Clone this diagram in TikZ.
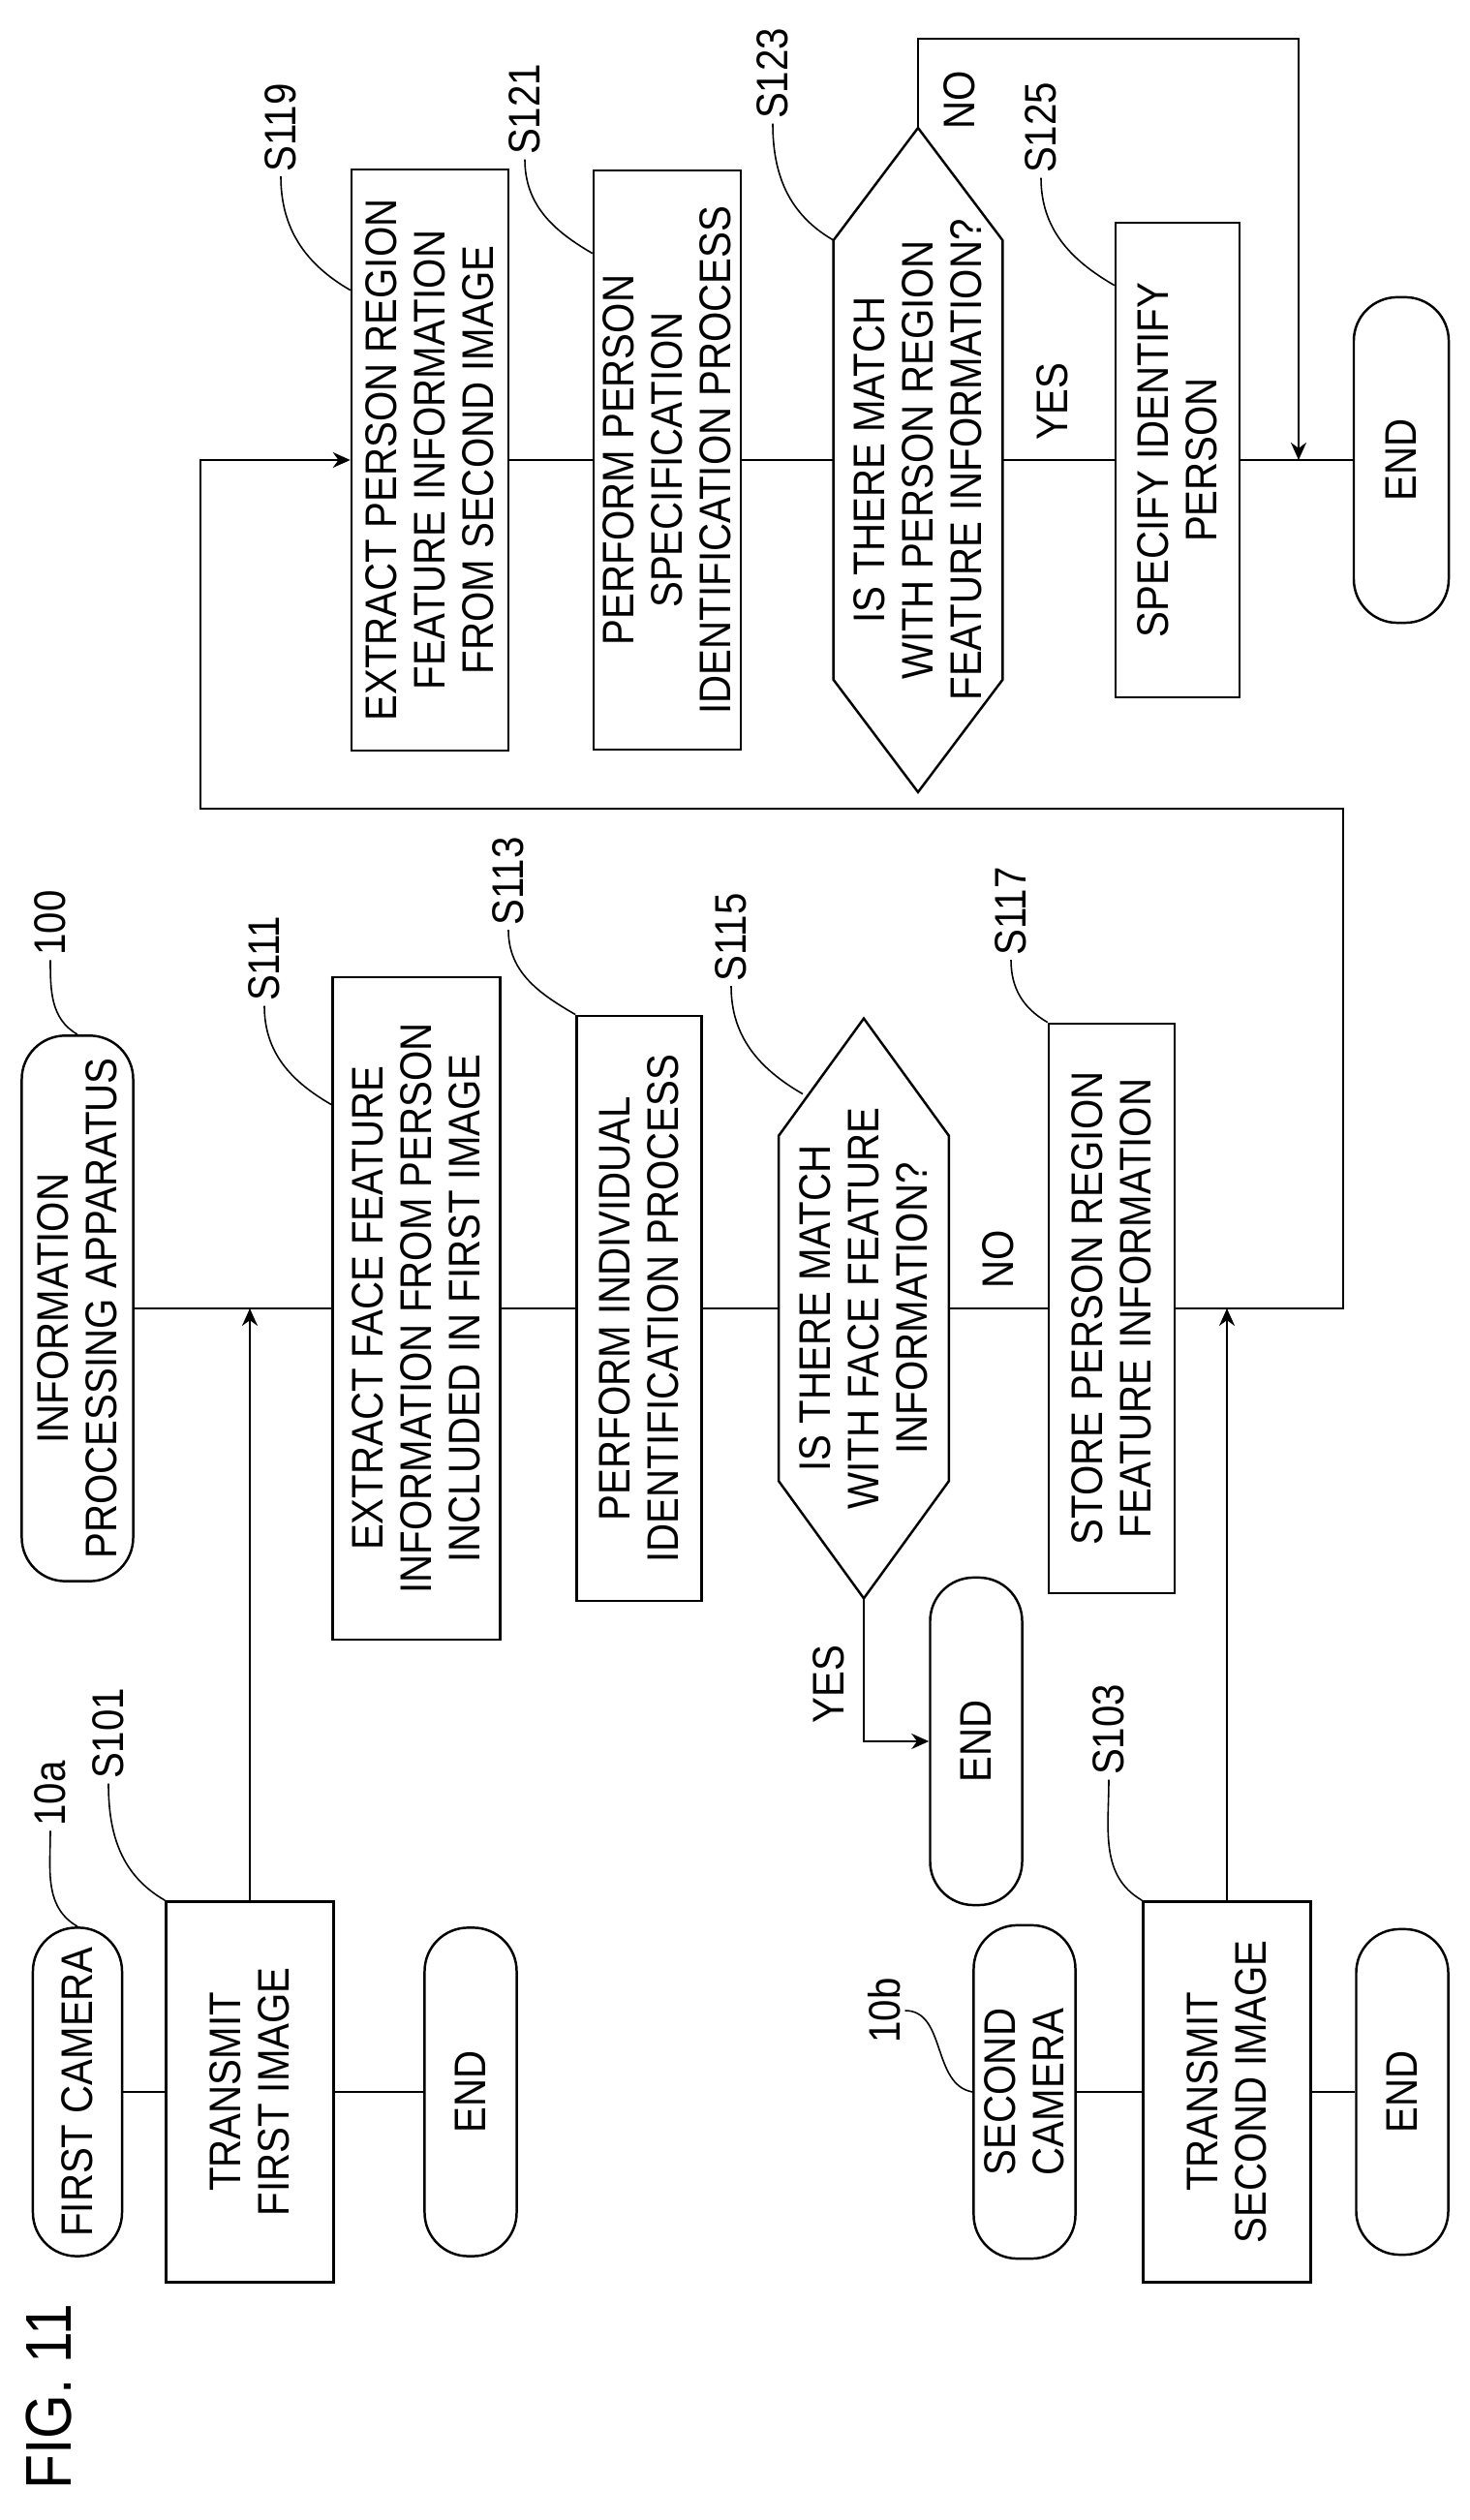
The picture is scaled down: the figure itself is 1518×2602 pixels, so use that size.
\documentclass[tikz,border=0pt]{standalone}
\usepackage{fontspec}
\setmainfont{Liberation Sans}[FakeStretch=0.88]
\usetikzlibrary{calc,arrows.meta}

\tikzset{
  term/.style={draw,rectangle,rounded corners=0.45cm,align=center,inner sep=1pt},
  proc/.style={draw,rectangle,align=center,inner sep=1pt},
  dec/.style={rectangle,align=center,inner sep=0pt},
  lbl/.style={inner sep=1pt},
  leader/.style={line width=0.45pt}
}
% hexagonal decision frame around a helper node
\newcommand\hexframe[2]{%
  \draw (#1.west) -- ($(#1.north west)+(#2,0)$) -- ($(#1.north east)+(-#2,0)$)
    -- (#1.east) -- ($(#1.south east)+(-#2,0)$) -- ($(#1.south west)+(#2,0)$) -- cycle;}

\begin{document}
\begin{tikzpicture}[x=0.01cm,y=0.01cm,>={Stealth[length=1.8mm,width=1.6mm]},
  line width=0.7pt,font=\fontsize{13}{14.2}\selectfont]
  \useasboundingbox (0,0) rectangle (1518,2602);
  \begin{scope}[rotate=90,transform shape]
  %
  % Cameras
  \node[term,minimum width=3.39cm,minimum height=0.92cm] (cam1) at (442,-80) {FIRST CAMERA};
  \node[proc,minimum width=3.93cm,minimum height=1.73cm] (tx1) at (442,-258) {TRANSMIT\\FIRST IMAGE};
  \node[term,minimum width=3.39cm,minimum height=0.95cm] (end1) at (442,-486) {END};
  \node[term,minimum width=3.44cm,minimum height=1.05cm] (cam2) at (442,-1058) {SECOND\\CAMERA};
  \node[proc,minimum width=3.93cm,minimum height=1.73cm] (tx2) at (442,-1267) {TRANSMIT\\SECOND IMAGE};
  \node[term,minimum width=3.36cm,minimum height=0.95cm] (end3) at (442,-1448) {END};
  %
  % Information processing apparatus
  \node[term,minimum width=5.63cm,minimum height=1.15cm] (info) at (1251,-80) {INFORMATION\\PROCESSING APPARATUS};
  \node[proc,minimum width=6.84cm,minimum height=1.73cm] (s111) at (1251,-430) {EXTRACT FACE FEATURE\\INFORMATION FROM PERSON\\INCLUDED IN FIRST IMAGE};
  \node[proc,minimum width=6.04cm,minimum height=1.29cm] (s113) at (1251,-660) {PERFORM INDIVIDUAL\\IDENTIFICATION PROCESS};
  \node[dec,minimum width=5.96cm,minimum height=1.73cm] (s115) at (1251,-892) {IS THERE MATCH\\WITH FACE FEATURE\\INFORMATION?};
  \hexframe{s115}{121}
  \node[term,minimum width=3.38cm,minimum height=0.95cm] (end2) at (804,-1008) {END};
  \node[proc,minimum width=5.88cm,minimum height=1.30cm] (s117) at (1251,-1148) {STORE PERSON REGION\\FEATURE INFORMATION};
  %
  \node[proc,minimum width=6.00cm,minimum height=1.62cm] (s119) at (2127,-444) {EXTRACT PERSON REGION\\FEATURE INFORMATION\\FROM SECOND IMAGE};
  \node[proc,minimum width=5.98cm,minimum height=1.52cm] (s121) at (2127,-689) {PERFORM PERSON\\SPECIFICATION\\IDENTIFICATION PROCESS};
  \node[dec,minimum width=6.83cm,minimum height=1.72cm] (s123) at (2127,-948) {IS THERE MATCH\\WITH PERSON REGION\\FEATURE INFORMATION?};
  \hexframe{s123}{116}
  \node[proc,minimum width=4.90cm,minimum height=1.28cm] (s125) at (2127,-1216) {SPECIFY IDENTIFY\\PERSON};
  \node[term,minimum width=3.36cm,minimum height=0.98cm] (end4) at (2127,-1447) {END};
  %
  % Junctions
  \coordinate (j1) at (1251,-258);
  \coordinate (j2) at (1251,-1267);
  \coordinate (j3) at (2127,-1341);
  %
  % Flow lines
  \draw (cam1) -- (tx1) -- (end1);
  \draw (cam2) -- (tx2) -- (end3);
  \draw (info) -- (s111) -- (s113) -- (s115.north);
  \draw (s115.south) -- node[right=2pt] {NO} (s117);
  \draw[->] (s115.west) -| node[pos=0.3,above=2pt] {YES} (end2.north);
  \draw[->] (tx1.east) -- (j1);
  \draw[->] (tx2.east) -- (j2);
  \draw[->] (s117.south) -- (1251,-1387) -- (1767,-1387) -- (1767,-207) -- (2127,-207) -- (s119.north);
  \draw (s119) -- (s121) -- (s123.north);
  \draw (s123.south) -- node[right=2pt,pos=0.45] {YES} (s125);
  \draw (s125) -- (end4);
  \draw[->] (s123.east) -- (2562,-948) -- node[pos=0.2,above=2pt,xshift=-18pt] {NO} (2562,-1341) -- (j3);
  %
  % Reference labels
  \node[lbl] (l10a) at (750,-52) {10a};
  \draw[leader] (l10a.west) to[out=180,in=60] (cam1.east);
  \node[lbl] (l101) at (812,-112) {S101};
  \draw[leader] (l101.west) to[out=180,in=60] (tx1.north east);
  \node[lbl] (l100) at (1649,-52) {100};
  \draw[leader] (l100.west) to[out=180,in=60] (info.east);
  \node[lbl] (l111) at (1612,-273) {S111};
  \draw[leader] (l111.west) to[out=180,in=60] ($(s111.north east)+(-133,0)$);
  \node[lbl] (l113) at (1692,-525) {S113};
  \draw[leader] (l113.west) to[out=180,in=60] (s113.north east);
  \node[lbl] (l115) at (1634,-755) {S115};
  \draw[leader] (l115.west) to[out=180,in=60] ($(s115.east)+(-78,63)$);
  \node[lbl] (l117) at (1661,-1044) {S117};
  \draw[leader] (l117.west) to[out=180,in=60] (s117.north east);
  \node[lbl] (l10b) at (526,-913) {10b};
  \draw[leader] (l10b.south) to[out=-90,in=80] (cam2.north);
  \node[lbl] (l103) at (816,-1145) {S103};
  \draw[leader] (l103.west) to[out=180,in=60] (tx2.north east);
  \node[lbl] (l119) at (2470,-290) {S119};
  \draw[leader] (l119.west) to[out=180,in=60] ($(s119.north east)+(-126,0)$);
  \node[lbl] (l121) at (2489,-542) {S121};
  \draw[leader] (l121.west) to[out=180,in=60] ($(s121.north east)+(-87,0)$);
  \node[lbl] (l123) at (2526,-798) {S123};
  \draw[leader] (l123.west) to[out=180,in=60] ($(s123.north east)+(-116,0)$);
  \node[lbl] (l125) at (2470,-1075) {S125};
  \draw[leader] (l125.west) to[out=180,in=60] ($(s125.north east)+(-66,0)$);
  %
  \node[font=\fontsize{19}{19}\selectfont] (fig) at (127,-50) {FIG. 11};
  \end{scope}
\end{tikzpicture}
\end{document}
